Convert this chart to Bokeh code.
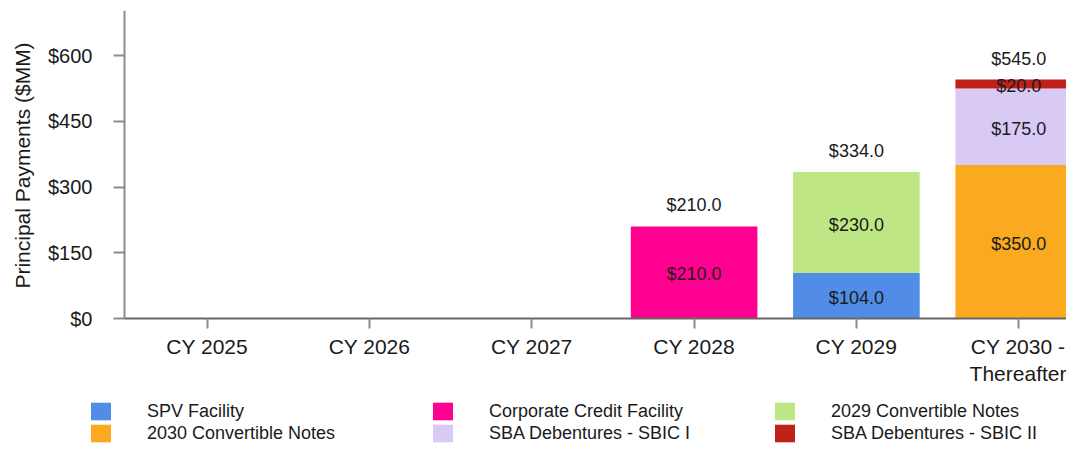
from bokeh.plotting import figure
from bokeh.models import (ColumnDataSource, FixedTicker, NumeralTickFormatter, Range1d,
                          Legend, LegendItem, Label)
from bokeh.embed import file_html
from bokeh.resources import INLINE
from bokeh.core.properties import value
import math

categories = ["CY 2025", "CY 2026", "CY 2027", "CY 2028", "CY 2029", "CY 2030 -\nThereafter"]
series_names = ["SPV Facility", "Corporate Credit Facility", "2029 Convertible Notes",
                "2030 Convertible Notes", "SBA Debentures - SBIC I", "SBA Debentures - SBIC II"]
spv_facility = [0, 0, 0, 0, 104.0, 0]
corporate_credit = [0, 0, 0, 210.0, 0, 0]
conv_2029 = [0, 0, 0, 0, 230.0, 0]
conv_2030 = [0, 0, 0, 0, 0, 350.0]
sbic_1 = [0, 0, 0, 0, 0, 175.0]
sbic_2 = [0, 0, 0, 0, 0, 20.0]
colors = ["#518DE6", "#FF0090", "#BEE684", "#FBAA1F", "#D9C9F5", "#C0221A"]
y_ticks = [0, 150, 300, 450, 600]
y_title = "Principal Payments ($MM)"

FONT = "Liberation Sans"
series = [spv_facility, corporate_credit, conv_2029, conv_2030, sbic_1, sbic_2]
keys = ["s%d" % i for i in range(len(series))]
xs = list(range(len(categories)))

data = {"x": xs}
for k, s in zip(keys, series):
    data[k] = s
src = ColumnDataSource(data)

# layout constants (pixels -> data)
X0_PX, X_STEP = 206.7, 162.3          # first category centre, category pitch
Y0_PX, Y_SCALE = 318.0, 263.0 / 600   # baseline pixel, px per unit
W, H, TOP = 1066, 444, 10
AXIS_PX = 124.0
x_start = -X0_PX / X_STEP
x_end = (W - X0_PX) / X_STEP
y_start = -(H - Y0_PX) / Y_SCALE
y_end = (Y0_PX - TOP) / Y_SCALE
y_axis_x = (AXIS_PX - X0_PX) / X_STEP

p = figure(width=W, height=H, output_backend="svg", toolbar_location=None,
           x_range=Range1d(x_start, x_end), y_range=Range1d(y_start, y_end),
           min_border_left=0, min_border_right=0, min_border_top=TOP, min_border_bottom=0)
p.outline_line_color = None
p.xgrid.grid_line_color = None
p.ygrid.grid_line_color = None

rs = p.vbar_stack(keys, x="x", width=0.78, color=colors, line_color=None, source=src)

# segment labels
lx, ly, lt = [], [], []
bottoms = [0.0] * len(categories)
for s in series:
    for i, v in enumerate(s):
        if v > 0:
            lx.append(xs[i]); ly.append(bottoms[i] + v / 2.0); lt.append("$%.1f" % v)
        bottoms[i] += v
p.text(x=lx, y=ly, text=lt, text_font=value(FONT), text_font_size="18px",
       text_align="center", text_baseline="middle", text_color="#1a1a1a", y_offset=2)

# total labels
tx, ty, tt = [], [], []
for i, tot in enumerate(bottoms):
    if tot > 0:
        tx.append(xs[i]); ty.append(tot); tt.append("$%.1f" % tot)
p.text(x=tx, y=ty, text=tt, text_font=value(FONT), text_font_size="18px",
       text_align="center", text_baseline="alphabetic", text_color="#1a1a1a", y_offset=-21)

# x axis
xa = p.xaxis[0]
xa.fixed_location = 0
xa.bounds = (y_axis_x, x_end)
xa.ticker = FixedTicker(ticks=xs)
xa.major_label_overrides = {i: c for i, c in enumerate(categories)}
xa.axis_line_color = "#666666"
xa.axis_line_width = 2
xa.major_tick_line_color = "#8c8c8c"
xa.major_tick_line_width = 2
xa.major_tick_out = 10
xa.major_tick_in = 0
xa.minor_tick_line_color = None
xa.major_label_standoff = 6
xa.major_label_text_font = FONT
xa.major_label_text_font_size = "21px"
xa.major_label_text_color = "#1a1a1a"

# y axis
ya = p.yaxis[0]
ya.fixed_location = y_axis_x
ya.bounds = (0, y_end)
ya.ticker = FixedTicker(ticks=y_ticks)
ya.formatter = NumeralTickFormatter(format="$0")
ya.axis_line_color = "#8c8c8c"
ya.axis_line_width = 2
ya.major_tick_line_color = "#8c8c8c"
ya.major_tick_line_width = 2
ya.major_tick_out = 11
ya.major_tick_in = 0
ya.minor_tick_line_color = None
ya.major_label_standoff = 21
ya.major_label_text_font = FONT
ya.major_label_text_font_size = "20px"
ya.major_label_text_color = "#1a1a1a"

title = Label(x=(22 - X0_PX) / X_STEP, y=(Y0_PX - 165) / Y_SCALE, text=y_title, angle=math.pi / 2,
              text_align="center", text_baseline="middle", text_font=FONT,
              text_font_size="21px", text_color="#1a1a1a")
p.add_layout(title)

legend = Legend(items=[LegendItem(label=n, renderers=[r]) for n, r in zip(series_names, rs)],
                location=(88, 0), orientation="horizontal", ncols=3,
                glyph_width=25, glyph_height=22, label_standoff=34, label_width=283,
                label_height=19, spacing=0, padding=0, margin=0,
                border_line_color=None, background_fill_alpha=0,
                label_text_font=FONT, label_text_font_size="18px", label_text_color="#1a1a1a")
p.add_layout(legend, "center")

open("out.html", "w").write(file_html(p, INLINE))
